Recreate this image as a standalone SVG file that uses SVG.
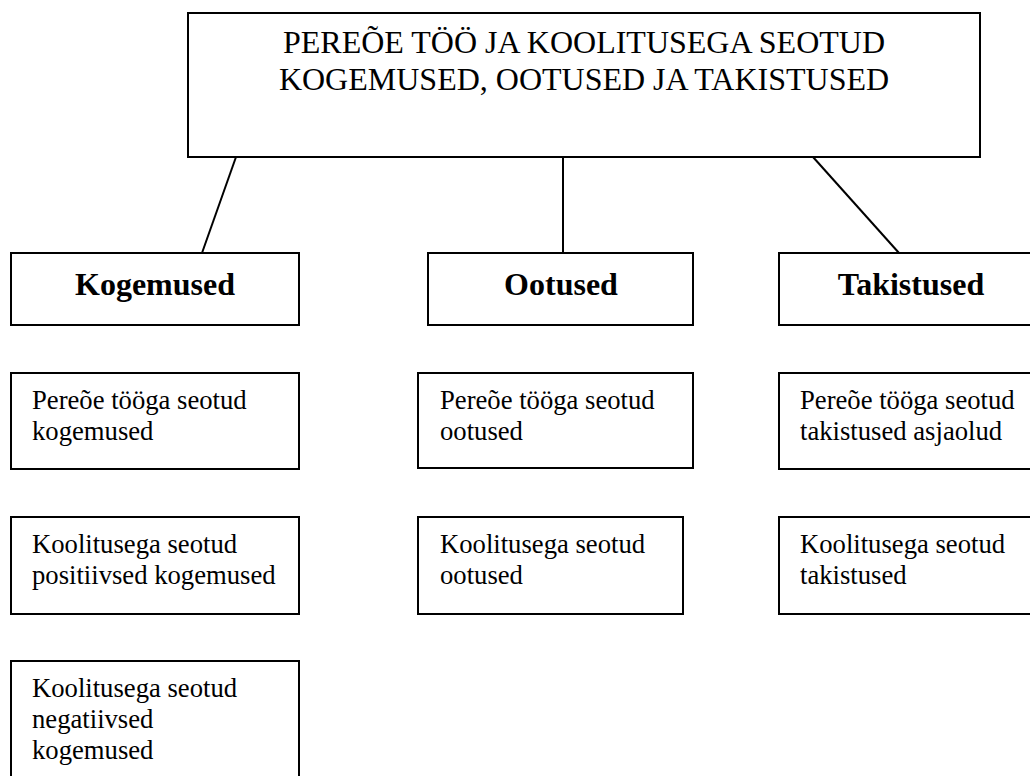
<svg xmlns="http://www.w3.org/2000/svg" width="1030" height="776" viewBox="0 0 1030 776">
<style>
.box{fill:#fff;stroke:#000;stroke-width:2}
.conn{stroke:#000;stroke-width:2;fill:none}
.title{font-family:"Liberation Serif","Times New Roman",serif;font-size:32px;fill:#000}
.head{font-family:"Liberation Serif","Times New Roman",serif;font-size:32px;font-weight:bold;fill:#000}
.item{font-family:"Liberation Serif","Times New Roman",serif;font-size:26.67px;fill:#000}
</style>
<rect width="1030" height="776" fill="#fff"/>
<g id="connectors">
<line class="conn" x1="236" y1="157" x2="202" y2="253"/>
<line class="conn" x1="563" y1="157" x2="563" y2="253"/>
<line class="conn" x1="813" y1="157" x2="899" y2="253"/>
</g>
<g id="root">
<rect class="box" x="188" y="13" width="792" height="144"/>
<text class="title" x="584" y="53" text-anchor="middle">PEREÕE TÖÖ JA KOOLITUSEGA SEOTUD</text>
<text class="title" x="584" y="90" text-anchor="middle">KOGEMUSED, OOTUSED JA TAKISTUSED</text>
</g>
<g id="kogemused">
<rect class="box" x="11" y="253" width="288" height="72"/>
<text class="head" x="155" y="295" text-anchor="middle">Kogemused</text>
</g>
<g id="ootused">
<rect class="box" x="428" y="253" width="265" height="72"/>
<text class="head" x="561" y="295" text-anchor="middle">Ootused</text>
</g>
<g id="takistused">
<rect class="box" x="779" y="253" width="264" height="72"/>
<text class="head" x="911" y="295" text-anchor="middle">Takistused</text>
</g>
<g id="k1">
<rect class="box" x="11" y="373" width="288" height="96"/>
<text class="item" x="32" y="409">Pereõe tööga seotud</text>
<text class="item" x="32" y="440">kogemused</text>
</g>
<g id="k2">
<rect class="box" x="11" y="517" width="288" height="97"/>
<text class="item" x="32" y="553">Koolitusega seotud</text>
<text class="item" x="32" y="584">positiivsed kogemused</text>
</g>
<g id="k3">
<rect class="box" x="11" y="661" width="288" height="130"/>
<text class="item" x="32" y="697">Koolitusega seotud</text>
<text class="item" x="32" y="728">negatiivsed</text>
<text class="item" x="32" y="759">kogemused</text>
</g>
<g id="o1">
<rect class="box" x="418" y="373" width="275" height="95"/>
<text class="item" x="440" y="409">Pereõe tööga seotud</text>
<text class="item" x="440" y="440">ootused</text>
</g>
<g id="o2">
<rect class="box" x="418" y="517" width="265" height="97"/>
<text class="item" x="440" y="553">Koolitusega seotud</text>
<text class="item" x="440" y="584">ootused</text>
</g>
<g id="t1">
<rect class="box" x="779" y="373" width="264" height="96"/>
<text class="item" x="800" y="409">Pereõe tööga seotud</text>
<text class="item" x="800" y="440">takistused asjaolud</text>
</g>
<g id="t2">
<rect class="box" x="779" y="517" width="264" height="97"/>
<text class="item" x="800" y="553">Koolitusega seotud</text>
<text class="item" x="800" y="584">takistused</text>
</g>
</svg>
